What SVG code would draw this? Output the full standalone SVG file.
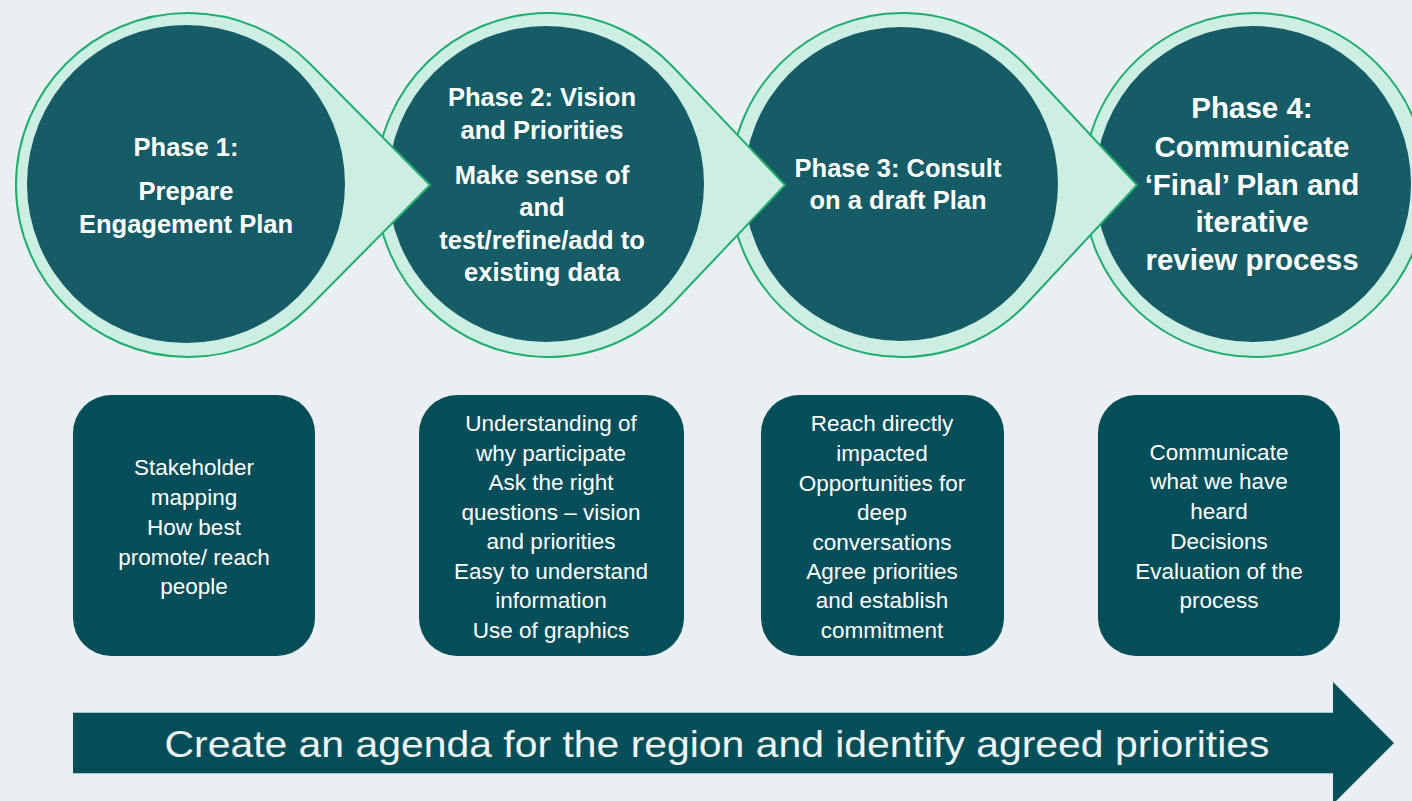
<svg xmlns="http://www.w3.org/2000/svg" width="1412" height="801" viewBox="0 0 1412 801">
<style>
.drop{fill:#CDEEE3;stroke:#20AE6C;stroke-width:2}
.core{fill:#165C66}
.box{fill:#034E59}
.ph{font-family:"Liberation Sans",Arial,sans-serif;font-weight:bold;font-size:25.5px;fill:#FFFFFF;text-anchor:middle}
.ph4{font-size:29.5px}
.bt{font-family:"Liberation Sans",Arial,sans-serif;font-size:22.5px;fill:#FFFFFF;text-anchor:middle}
.at{font-family:"Liberation Sans",Arial,sans-serif;font-size:37px;fill:#EEF5F5;text-anchor:middle}
</style>
<rect x="0" y="0" width="1412" height="801" fill="#E9EFF2"/>

<g id="phase4">
<circle class="drop" cx="1255" cy="185" r="172"/>
<circle class="core" cx="1253" cy="184" r="158"/>
<text class="ph ph4"><tspan x="1252" y="118">Phase 4:</tspan><tspan x="1252" y="157">Communicate</tspan><tspan x="1252" y="195">‘Final’ Plan and</tspan><tspan x="1252" y="232">iterative</tspan><tspan x="1252" y="270">review process</tspan></text>
</g>

<g id="phase3">
<path class="drop" d="M1027.4 67.2 L1137 185 L1027.4 302.8 A172 172 0 1 1 1027.4 67.2 Z"/>
<circle class="core" cx="901" cy="184" r="157"/>
<text class="ph"><tspan x="898" y="177">Phase 3: Consult</tspan><tspan x="898" y="209">on a draft Plan</tspan></text>
</g>

<g id="phase2">
<path class="drop" d="M672.8 66.7 L785 185 L672.8 303.3 A172 172 0 1 1 672.8 66.7 Z"/>
<circle class="core" cx="546" cy="184" r="158"/>
<text class="ph"><tspan x="542" y="106">Phase 2: Vision</tspan><tspan x="542" y="139">and Priorities</tspan><tspan x="542" y="184">Make sense of</tspan><tspan x="542" y="216">and</tspan><tspan x="542" y="249">test/refine/add to</tspan><tspan x="542" y="281">existing data</tspan></text>
</g>

<g id="phase1">
<path class="drop" d="M310.2 64 L430 185 L310.2 306 A172 172 0 1 1 310.2 64 Z"/>
<circle class="core" cx="186" cy="184" r="159"/>
<text class="ph"><tspan x="186" y="156">Phase 1:</tspan><tspan x="186" y="200">Prepare</tspan><tspan x="186" y="233">Engagement Plan</tspan></text>
</g>

<g id="box1">
<rect class="box" x="73" y="395" width="242" height="261" rx="38"/>
<text class="bt"><tspan x="194" y="475">Stakeholder</tspan><tspan x="194" y="505">mapping</tspan><tspan x="194" y="535">How best</tspan><tspan x="194" y="565">promote/ reach</tspan><tspan x="194" y="594">people</tspan></text>
</g>

<g id="box2">
<rect class="box" x="419" y="395" width="265" height="261" rx="38"/>
<text class="bt"><tspan x="551" y="431">Understanding of</tspan><tspan x="551" y="461">why participate</tspan><tspan x="551" y="490">Ask the right</tspan><tspan x="551" y="520">questions – vision</tspan><tspan x="551" y="549">and priorities</tspan><tspan x="551" y="579">Easy to understand</tspan><tspan x="551" y="608">information</tspan><tspan x="551" y="638">Use of graphics</tspan></text>
</g>

<g id="box3">
<rect class="box" x="761" y="395" width="243" height="261" rx="38"/>
<text class="bt"><tspan x="882" y="431">Reach directly</tspan><tspan x="882" y="461">impacted</tspan><tspan x="882" y="491">Opportunities for</tspan><tspan x="882" y="520">deep</tspan><tspan x="882" y="550">conversations</tspan><tspan x="882" y="579">Agree priorities</tspan><tspan x="882" y="608">and establish</tspan><tspan x="882" y="638">commitment</tspan></text>
</g>

<g id="box4">
<rect class="box" x="1098" y="395" width="242" height="261" rx="38"/>
<text class="bt"><tspan x="1219" y="460">Communicate</tspan><tspan x="1219" y="489">what we have</tspan><tspan x="1219" y="519">heard</tspan><tspan x="1219" y="549">Decisions</tspan><tspan x="1219" y="579">Evaluation of the</tspan><tspan x="1219" y="608">process</tspan></text>
</g>

<g id="connectors">
<polygon points="73,712 1333,712 1333,682 1394,743 1333,804 1333,774 73,774" fill="#034E59"/>
<line x1="73" y1="712.5" x2="1333" y2="712.5" stroke="#A9C6CA" stroke-width="1"/>
<line x1="73" y1="773.5" x2="1333" y2="773.5" stroke="#A9C6CA" stroke-width="1"/>
<text class="at" x="717" y="757" textLength="1105" lengthAdjust="spacingAndGlyphs">Create an agenda for the region and identify agreed priorities</text>
</g>
</svg>
